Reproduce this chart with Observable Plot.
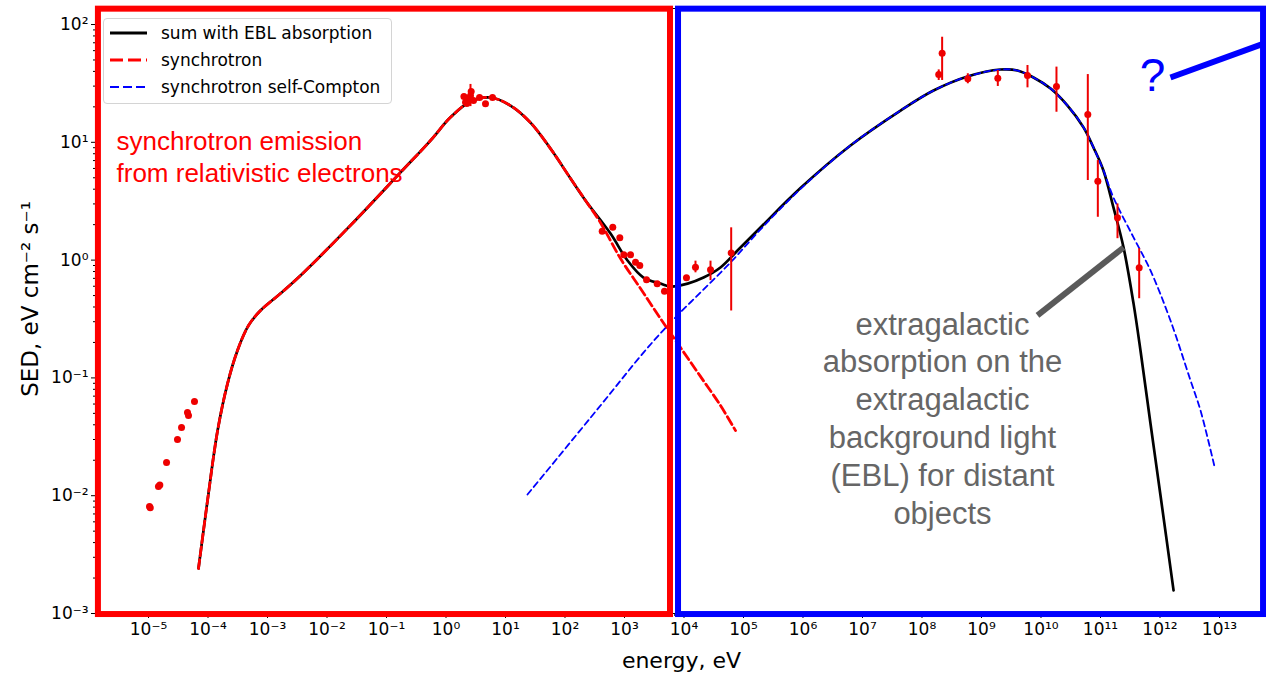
<!DOCTYPE html>
<html><head><meta charset="utf-8">
<script src="https://cdn.jsdelivr.net/npm/d3@7"></script>
<script src="https://cdn.jsdelivr.net/npm/@observablehq/plot@0.6"></script>
<style>
html,body{margin:0;padding:0;background:#fff;}
#wrap{position:relative;width:1266px;height:673px;overflow:hidden;}
#legend{position:absolute;left:103px;top:18px;width:289px;height:86px;border:1px solid #d4d4d4;border-radius:4px;background:rgba(255,255,255,0.85);font-family:"DejaVu Sans";font-size:17px;color:#000;box-sizing:border-box;}
.row{display:flex;align-items:center;height:27px;}
.row svg{margin-left:6px;margin-right:14px;flex:none;}
</style></head><body><div id="wrap"><div id="legend"></div></div>
<script>
// ---- observed data points (energy eV, SED eV cm^-2 s^-1) ----
const obsEnergy = [1.04e-5, 1.07e-5, 1.47e-5, 1.55e-5, 2.01e-5, 3.07e-5, 3.59e-5, 4.52e-5, 4.70e-5, 5.93e-5,
  2.0, 2.13, 2.24, 2.39, 2.58, 2.65, 2.90, 3.66, 4.61, 6.05,
  422, 635, 834, 973, 1262, 1531, 1807, 2344, 3540, 4699,
  1.10e4, 1.56e4, 2.79e4, 6.21e4,
  1.91e8, 2.18e8, 5.89e8, 1.88e9, 5.93e9, 1.82e10, 6.12e10, 9.02e10, 1.93e11, 4.47e11];
const obsSED = [0.0081, 0.0079, 0.0120, 0.0123, 0.0191, 0.030, 0.0379, 0.0508, 0.048, 0.063,
  24.5, 21.9, 21.4, 23.5, 24.9, 27.0, 22.6, 24.0, 21.3, 24.0,
  1.76, 1.90, 1.55, 1.11, 1.11, 0.96, 0.90, 0.68, 0.63, 0.545,
  0.71, 0.87, 0.83, 1.15,
  37.6, 57.0, 34.6, 35.0, 36.9, 29.8, 17.2, 4.68, 2.29, 0.86];
// ---- error bars ----
const errEnergy = [2.58, 1.56e4, 2.79e4, 6.21e4, 1.91e8, 2.18e8, 5.89e8, 1.88e9, 5.93e9, 1.82e10, 6.12e10, 9.02e10, 1.93e11, 4.47e11];
const errLow  = [20.1, 0.78, 0.67, 0.37, 33.5, 33.5, 31.4, 29.8, 29.0, 18.0, 4.74, 2.31, 1.52, 0.47];
const errHigh = [31.0, 0.98, 0.98, 1.88, 41.2, 78.0, 38.2, 40.7, 44.9, 43.5, 37.6, 7.0, 3.0, 1.25];
// ---- model curves ----
const sumEnergy = [6.92e-5, 9.82e-5, 1.45e-4, 2.13e-4, 3.13e-4, 4.80e-4, 7.62e-4, 1.65e-3, 3.59e-3, 0.0248, 0.172, 0.548,
  1.19, 2.58, 5.60, 12.1, 26.3, 57.0, 124, 221, 582, 1122, 2084, 4027, 5929, 1.15e4, 2.13e4, 4.10e4, 7.93e4, 1.93e5,
  9.08e5, 6.28e6, 4.36e7, 1.56e8, 5.82e8, 2.08e9, 4.03e9, 7.48e9, 1.45e10, 2.79e10, 5.18e10, 7.62e10, 1.12e11,
  1.65e11, 2.44e11, 3.59e11, 4.70e11, 6.92e11, 1.02e12, 1.69e12];
const sumSED = [2.41e-3, 9.10e-3, 0.0357, 0.0895, 0.171, 0.279, 0.373, 0.520, 0.740, 1.97, 5.55, 10.35,
  16.3, 22.2, 24.0, 20.5, 14.7, 8.85, 4.93, 3.21, 1.68, 0.993, 0.711, 0.632, 0.597, 0.632, 0.711, 0.865, 1.205, 1.89,
  4.09, 9.4, 18.6, 27.5, 36.2, 41.5, 40.7, 35.5, 28.6, 20.5, 13.4, 9.04, 5.77,
  2.80, 1.28, 0.429, 0.171, 0.0410, 0.01005, 1.57e-3];
const syncEnergy = [6.92e-5, 9.82e-5, 1.45e-4, 2.13e-4, 3.13e-4, 4.80e-4, 7.62e-4, 1.65e-3, 3.59e-3, 0.0248, 0.172, 0.548,
  1.19, 2.58, 5.60, 12.1, 26.3, 57.0, 124, 221, 395, 857, 1858, 4027, 8730, 1.89e4, 4.10e4, 7.35e4];
const syncSED = [2.41e-3, 9.10e-3, 0.0357, 0.0895, 0.171, 0.279, 0.373, 0.520, 0.740, 1.97, 5.55, 10.35,
  16.3, 22.2, 24.0, 20.5, 14.7, 8.85, 4.93, 3.21, 2.08, 1.03, 0.574, 0.319, 0.181, 0.103, 0.0583, 0.0357];
const sscEnergy = [23.4, 395, 2084, 5929, 1.89e4, 6.05e4, 1.93e5, 9.08e5, 6.28e6, 4.36e7, 1.56e8, 5.82e8, 2.08e9, 4.03e9,
  7.48e9, 1.45e10, 2.79e10, 5.18e10, 7.62e10, 1.12e11, 1.65e11, 3.59e11, 6.92e11, 1.50e12, 3.26e12, 4.80e12, 8.24e12];
const sscSED = [0.01023, 0.0583, 0.164, 0.295, 0.531, 0.955, 1.82, 4.02, 9.4, 18.6, 27.5, 36.2, 41.5, 40.7,
  35.5, 28.6, 20.5, 13.4, 9.04, 5.77, 3.40, 1.56, 0.817, 0.307, 0.0951, 0.0528, 0.0177];
// ---- ticks ----
const xTickExponents = [-5,-4,-3,-2,-1,0,1,2,3,4,5,6,7,8,9,10,11,12,13];
const yTickExponents = [-3,-2,-1,0,1,2];
// ---- labels & annotations ----
const legendLabels = ["sum with EBL absorption", "synchrotron", "synchrotron self-Compton"];
const xLabel = "energy, eV";
const yLabel = "SED, eV cm⁻² s⁻¹";
const syncNote = "synchrotron emission\nfrom relativistic electrons";
const eblNote = "extragalactic\nabsorption on the\nextragalactic\nbackground light\n(EBL) for distant\nobjects";
const questionNote = "?";
const boxX1 = [1.44e-6, 8090], boxX2 = [5930, 5.5e13], boxColors = ["#ff0000", "#0000ff"];
const boxY1 = 9.8e-4, boxY2 = 135;
const notePos = {sync: [2.90e-6, 7.73], ebl: [2.21e8, 0.0466], q: [7.48e11, 36.2]};
const pointerGray = [8.73e9, 0.339, 2.44e11, 1.28];
const pointerBlue = [1.50e12, 35.5, 6.17e13, 70.3];

// ---- build tables ----
const zip = (xs, ys) => xs.map((x, i) => ({E: x, S: ys[i]}));
const obs = zip(obsEnergy, obsSED);
const errs = errEnergy.map((e, i) => ({E: e, lo: errLow[i], hi: errHigh[i]}));
const sum = zip(sumEnergy, sumSED), sync = zip(syncEnergy, syncSED), ssc = zip(sscEnergy, sscSED);
const boxes = boxX1.map((x1, i) => ({x1, x2: boxX2[i], y1: boxY1, y2: boxY2, c: boxColors[i]}));
const supMap = {"-":"⁻","0":"⁰","1":"¹","2":"²","3":"³","4":"⁴","5":"⁵","6":"⁶","7":"⁷","8":"⁸","9":"⁹"};
const pow10 = d => "10" + String(Math.round(Math.log10(d))).split("").map(c => supMap[c]).join("");
const xMajor = xTickExponents.map(e => 10 ** e);
const yMajor = yTickExponents.map(e => 10 ** e);
const minors = (lo, hi) => { const r = []; for (let k = lo; k <= hi; k++) for (let m = 2; m <= 9; m++) r.push(m * 10 ** k); return r; };
const xDomain = [10 ** -5.874, 10 ** 13.79];
const yDomain = [1e-3, 10 ** 2.136];
const xMinor = minors(-6, 13).filter(v => v > xDomain[0] && v < xDomain[1]);
const yMinor = minors(-3, 2).filter(v => v > yDomain[0] && v < yDomain[1]);

const chart = Plot.plot({
  width: 1266, height: 673,
  marginLeft: 96, marginRight: 0, marginTop: 8, marginBottom: 60,
  x: {type: "log", domain: xDomain},
  y: {type: "log", domain: yDomain},
  style: {fontFamily: "DejaVu Sans", fontSize: "17px", background: "white", color: "black", overflow: "visible"},
  marks: [
    Plot.frame({stroke: "black", strokeWidth: 1}),
    Plot.axisX({ticks: xMajor, tickFormat: pow10, tickSize: 5, tickPadding: 4, label: null, fontSize: 17}),
    Plot.axisX({ticks: xMinor, tickFormat: () => "", tickSize: 3, label: null}),
    Plot.axisY({ticks: yMajor, tickFormat: pow10, tickSize: 5, tickPadding: 3, label: null, fontSize: 17}),
    Plot.axisY({ticks: yMinor, tickFormat: () => "", tickSize: 3, label: null}),
    Plot.text([xLabel], {frameAnchor: "bottom", dy: 47, fontSize: 22, lineAnchor: "middle", textAnchor: "middle"}),
    Plot.text([yLabel], {frameAnchor: "left", dx: -66, dy: -12, rotate: -90, fontSize: 23, lineAnchor: "middle", textAnchor: "middle"}),
    Plot.line(sum, {x: "E", y: "S", stroke: "black", strokeWidth: 2.7, curve: "catmull-rom"}),
    Plot.line(sync, {x: "E", y: "S", stroke: "#ff0000", strokeWidth: 2.8, strokeDasharray: "9,4", curve: "catmull-rom"}),
    Plot.line(ssc, {x: "E", y: "S", stroke: "#0000ff", strokeWidth: 1.8, strokeDasharray: "6,4", curve: "catmull-rom"}),
    Plot.ruleX(errs, {x: "E", y1: "lo", y2: "hi", stroke: "#ee0000", strokeWidth: 2}),
    Plot.dot(obs, {x: "E", y: "S", r: 3.5, fill: "#ee0000"}),
    Plot.rect(boxes, {x1: "x1", x2: "x2", y1: "y1", y2: "y2", stroke: "c", strokeWidth: 6, fill: "none"}),
    Plot.text([syncNote], {x: () => notePos.sync[0], y: () => notePos.sync[1], textAnchor: "start", fill: "#ff0000", fontSize: 26, lineHeight: 1.23, fontFamily: "Liberation Sans"}),
    Plot.text([eblNote], {x: () => notePos.ebl[0], y: () => notePos.ebl[1], textAnchor: "middle", fill: "#666666", fontSize: 31, lineHeight: 1.22, fontFamily: "Liberation Sans"}),
    Plot.text([questionNote], {x: () => notePos.q[0], y: () => notePos.q[1], fill: "#0000ff", fontSize: 46, fontFamily: "Liberation Sans"}),
    Plot.link([pointerGray], {x1: d => d[0], y1: d => d[1], x2: d => d[2], y2: d => d[3], stroke: "#5a5a5a", strokeWidth: 6}),
    Plot.link([pointerBlue], {x1: d => d[0], y1: d => d[1], x2: d => d[2], y2: d => d[3], stroke: "#0000ff", strokeWidth: 6})
  ]
});
const wrap = document.getElementById("wrap");
wrap.insertBefore(chart, wrap.firstChild);

// legend
const legendStyles = [
  {stroke: "black", w: 3, dash: ""},
  {stroke: "#ff0000", w: 3, dash: "13,5"},
  {stroke: "#0000ff", w: 2, dash: "9,4"}
];
const lg = document.getElementById("legend");
legendLabels.forEach((lab, i) => {
  const s = legendStyles[i];
  const row = document.createElement("div");
  row.className = "row";
  row.innerHTML = `<svg width="37" height="10"><line x1="0" y1="5" x2="37" y2="5" stroke="${s.stroke}" stroke-width="${s.w}" stroke-dasharray="${s.dash}"/></svg><span>${lab}</span>`;
  lg.appendChild(row);
});
</script></body></html>
